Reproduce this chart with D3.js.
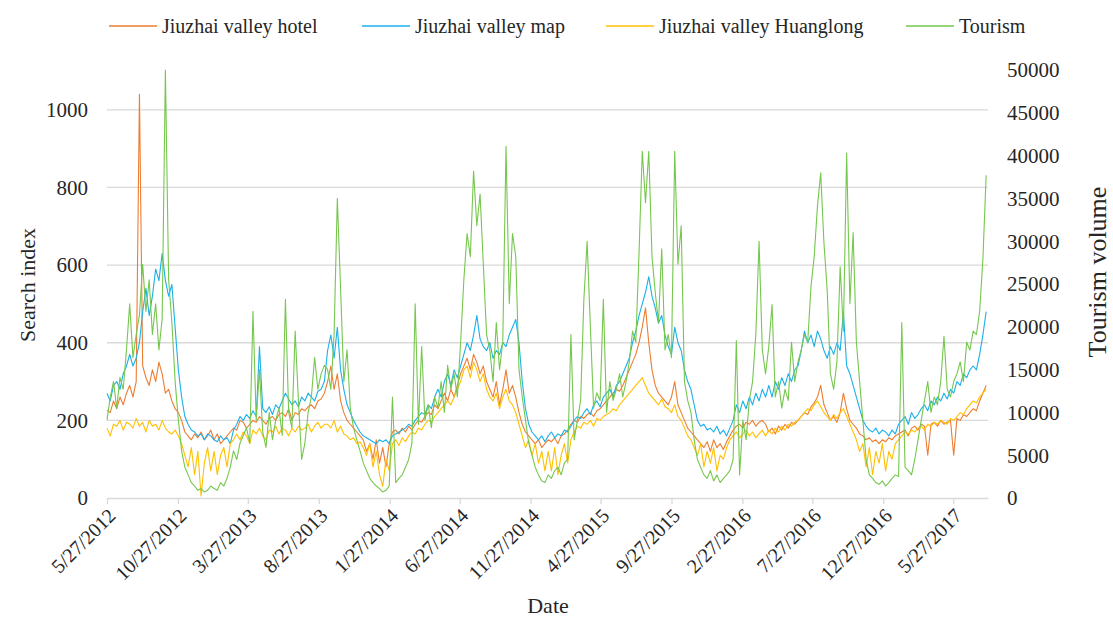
<!DOCTYPE html>
<html>
<head>
<meta charset="utf-8">
<script src="https://cdn.jsdelivr.net/npm/d3@7"></script>
<style>
  body { margin: 0; background: #fff; }
</style>
</head>
<body>
<script>
// weekly readings starting 5/27/2012
var startDate = new Date(2012, 4, 27);
var stepDays = 7;

var hotel = [226,220,250,230,260,240,270,290,260,300,1040,340,310,290,330,300,350,320,270,280,250,230,220,200,170,160,150,165,155,170,150,160,175,150,165,140,150,160,170,180,175,200,195,180,190,200,195,210,200,190,205,210,200,215,220,210,230,200,220,215,230,225,235,240,230,250,255,270,
  300,340,280,320,250,220,200,190,180,170,160,150,120,140,100,150,90,130,80,140,170,175,165,180,170,185,175,190,200,195,210,220,215,240,230,250,270,250,280,260,290,320,340,360,330,370,350,320,340,300,280,260,300,240,280,330,270,290,260,220,190,170,160,150,140,150,130,140,
  150,145,155,140,160,165,175,190,200,195,210,205,215,220,210,225,230,240,250,260,270,280,275,290,310,330,350,370,400,440,490,400,330,290,270,260,250,240,260,300,240,220,200,180,170,160,150,140,130,145,120,150,130,140,125,145,160,175,185,190,180,195,190,200,185,195,200,190,
  170,180,165,185,175,190,180,195,190,200,210,220,215,235,245,260,290,240,220,200,210,195,220,270,230,200,190,180,165,160,150,155,145,150,140,150,145,155,150,160,165,170,175,160,180,185,175,190,185,110,190,195,185,200,190,195,200,110,205,200,215,210,220,230,225,250,270,290];

var map = [270,250,290,300,280,320,340,370,340,360,400,480,540,470,520,590,560,630,560,520,550,440,330,260,210,190,175,170,160,165,150,165,160,150,145,160,150,155,140,175,190,210,200,215,205,225,210,390,230,220,235,215,240,230,250,270,255,240,250,235,260,250,270,260,250,275,280,300,
  380,420,360,440,330,280,240,220,200,185,170,160,155,150,145,140,150,145,150,140,160,165,170,175,180,190,185,200,210,220,215,240,230,260,280,260,300,320,290,330,310,340,370,400,380,420,470,410,390,380,400,360,380,370,400,390,420,440,460,400,300,230,190,170,160,150,160,145,
  160,170,155,165,160,175,170,185,200,210,205,220,230,215,240,250,235,260,270,280,260,290,300,320,340,360,400,430,470,500,530,570,520,490,450,470,420,390,370,440,400,380,330,300,280,240,200,185,190,175,180,170,185,165,175,160,180,200,240,220,250,230,260,240,270,250,280,260,
  290,260,300,280,310,290,320,300,330,340,380,430,400,420,390,430,410,380,360,390,370,400,380,480,340,320,290,260,230,200,185,175,170,180,165,175,170,160,175,165,190,200,210,190,220,205,215,230,240,225,250,240,260,250,270,255,280,270,300,290,320,310,330,340,330,370,420,480];

var huanglong = [180,160,190,185,200,175,195,190,180,205,185,195,170,200,185,190,175,200,180,170,165,175,160,140,110,80,130,60,120,5,90,130,70,120,60,110,130,80,140,150,165,150,170,160,140,175,165,180,160,150,175,170,185,165,180,175,160,180,170,185,175,180,190,170,185,195,180,190,
  190,180,200,170,185,165,160,150,155,140,145,130,110,140,80,120,60,30,100,70,140,150,135,155,145,160,170,165,180,175,190,200,195,210,220,230,240,250,240,260,280,300,330,340,310,350,330,300,320,280,260,250,270,230,260,280,250,240,220,190,160,130,150,110,140,90,120,70,
  120,70,130,60,110,140,90,150,170,185,180,195,190,200,185,205,200,210,215,220,230,225,240,250,260,270,280,290,300,310,290,270,260,250,240,255,235,230,220,240,210,200,180,160,150,130,110,140,80,120,90,130,70,110,100,130,150,160,170,155,165,175,160,170,155,165,175,160,
  175,165,180,170,185,175,190,185,195,200,210,220,230,225,240,250,235,220,210,200,215,205,220,230,210,190,170,150,120,140,80,130,60,120,90,140,70,120,100,140,150,160,170,165,175,170,180,185,175,190,185,195,190,200,195,190,205,200,210,220,215,230,240,250,245,260,270,280];

var tourism = [9100,11800,13600,10500,14100,12700,17300,22700,16400,19100,21400,27300,21800,25500,19100,22700,17300,20900,50000,25500,20500,13600,9100,5500,3600,2700,1800,1400,900,1100,700,900,1400,1100,900,1800,1400,2300,3600,5500,4500,6400,7300,8200,6400,21800,9100,15000,7700,5900,10000,6800,9100,10500,7300,23200,10000,8200,19500,11400,4500,6400,10000,11800,16400,12700,14500,15500,
  15000,12700,19100,35000,24500,13600,17300,10500,8200,6800,5500,4100,3200,2300,1800,1400,1100,700,900,1400,11800,1800,2300,2700,3600,4500,6400,22700,8600,17700,9100,10900,8200,11800,10500,13600,10000,15500,12700,14500,11800,18200,25500,30900,28200,38200,31800,35500,27300,19100,17300,13600,20500,15000,18200,41100,22700,30900,28200,15000,11800,9100,6400,5000,3600,2700,2000,1800,
  2700,2300,3200,3600,2700,4100,4500,19100,6800,9100,11400,23200,30000,20000,10500,12300,11400,23200,10000,13600,11400,12700,14500,11800,13600,15900,19500,18200,28600,40500,34500,40500,28200,24000,20500,29100,17300,19100,16400,40500,27300,31800,13600,11400,10000,6800,4500,3600,2700,2300,3200,2000,2700,1800,2300,2700,3200,4500,18400,2700,9100,6800,11400,13600,19100,30000,17300,14500,
  17700,22600,11800,13600,10500,12700,11400,18200,13600,15900,17300,19100,18200,24700,28200,34100,38000,29800,24300,14500,12700,15900,27000,19500,40300,22700,31000,18200,13600,9100,4500,2700,2300,1800,1600,2000,1400,1800,2300,2700,2500,20500,3600,3200,2700,4500,6800,9100,11400,13600,10000,11800,10900,13600,18900,12700,11800,13600,14500,15900,13600,18200,17300,19500,19100,21800,27900,37700];

var seriesNames = ["Jiuzhai valley hotel", "Jiuzhai valley map", "Jiuzhai valley Huanglong", "Tourism"];
var seriesColors = ["#ed7d31", "#1cb0e8", "#ffc000", "#76c74e"];

var leftTicks = [0, 200, 400, 600, 800, 1000];
var rightTicks = [0, 5000, 10000, 15000, 20000, 25000, 30000, 35000, 40000, 45000, 50000];
var dateTicks = ["5/27/2012","10/27/2012","3/27/2013","8/27/2013","1/27/2014","6/27/2014","11/27/2014","4/27/2015","9/27/2015","2/27/2016","7/27/2016","12/27/2016","5/27/2017"];

var W = 1113, H = 621;
var plot = {left: 107, right: 988, top: 70, bottom: 498};
var gridColor = "#d9d9d9";
var fontFamily = "'Liberation Serif', 'DejaVu Serif', serif";

var parseDate = d3.timeParse("%m/%d/%Y");
var dates = hotel.map(function(d, i) { return d3.timeDay.offset(startDate, i * stepDays); });

var x = d3.scaleTime()
    .domain([startDate, new Date(2017, 7, 10)])
    .range([plot.left, plot.right]);
var yL = d3.scaleLinear().domain([0, 1100]).range([plot.bottom, plot.top + 1]);
var yR = d3.scaleLinear().domain([0, 50000]).range([plot.bottom, plot.top]);

var svg = d3.select("body").append("svg")
    .attr("width", W)
    .attr("height", H)
    .attr("font-family", fontFamily);

svg.append("rect").attr("width", W).attr("height", H).attr("fill", "#fff");

// gridlines
svg.selectAll(".grid")
    .data(leftTicks.slice(1))
    .enter().append("line")
      .attr("x1", plot.left).attr("x2", plot.right)
      .attr("y1", function(d) { return yL(d); })
      .attr("y2", function(d) { return yL(d); })
      .attr("stroke", gridColor)
      .attr("stroke-width", 1.3);

// x axis
var xAxis = svg.append("g")
    .attr("transform", "translate(0," + plot.bottom + ")")
    .call(d3.axisBottom(x)
      .tickValues(dateTicks.map(parseDate))
      .tickSize(6)
      .tickSizeOuter(0)
      .tickFormat(""));
xAxis.select(".domain").attr("stroke", gridColor).attr("stroke-width", 1.6);
xAxis.selectAll(".tick line").attr("stroke", gridColor).attr("stroke-width", 1.3);

var labels = svg.append("g").attr("fill", "#262626").attr("font-family", fontFamily);

labels.selectAll(".xlab")
    .data(dateTicks)
    .enter().append("text")
      .attr("transform", function(d) {
        return "translate(" + (x(parseDate(d)) + 5) + "," + (plot.bottom + 14) + ") rotate(-45)";
      })
      .attr("text-anchor", "end")
      .attr("dy", "0.35em")
      .attr("font-size", 20)
      .text(function(d) { return d; });

// left axis labels
labels.selectAll(".ylab")
    .data(leftTicks)
    .enter().append("text")
      .attr("x", 88)
      .attr("y", function(d) { return yL(d); })
      .attr("dy", "0.35em")
      .attr("text-anchor", "end")
      .attr("font-size", 21)
      .text(function(d) { return d; });

// right axis labels
labels.selectAll(".y2lab")
    .data(rightTicks)
    .enter().append("text")
      .attr("x", 1007)
      .attr("y", function(d) { return yR(d); })
      .attr("dy", "0.35em")
      .attr("text-anchor", "start")
      .attr("font-size", 21)
      .text(function(d) { return d; });

// axis titles
labels.append("text")
    .attr("transform", "translate(27,285) rotate(-90)")
    .attr("text-anchor", "middle")
    .attr("dy", "0.35em")
    .attr("font-size", 22)
    .text("Search index");

labels.append("text")
    .attr("transform", "translate(1097,272) rotate(-90)")
    .attr("text-anchor", "middle")
    .attr("dy", "0.35em")
    .attr("font-size", 26)
    .text("Tourism volume");

labels.append("text")
    .attr("x", 548)
    .attr("y", 605)
    .attr("text-anchor", "middle")
    .attr("dy", "0.35em")
    .attr("font-size", 22)
    .text("Date");

// lines
var lineL = d3.line()
    .x(function(d) { return x(d.date); })
    .y(function(d) { return yL(d.value); });
var lineR = d3.line()
    .x(function(d) { return x(d.date); })
    .y(function(d) { return yR(d.value); });

[hotel, map, huanglong].forEach(function(s, k) {
  svg.append("path")
      .datum(s.map(function(v, i) { return {date: dates[i], value: v}; }))
      .attr("fill", "none")
      .attr("stroke", seriesColors[k])
      .attr("stroke-width", 1.1)
      .attr("stroke-linejoin", "round")
      .attr("d", lineL);
});

svg.append("path")
    .datum(tourism.map(function(v, i) { return {date: dates[i], value: v}; }))
    .attr("fill", "none")
    .attr("stroke", seriesColors[3])
    .attr("stroke-width", 1.1)
    .attr("stroke-linejoin", "round")
    .attr("d", lineR);

// legend
var legendX = [109, 362, 606, 906];
var legend = svg.selectAll(".legend")
    .data(seriesNames)
    .enter().append("g")
      .attr("transform", function(d, i) { return "translate(" + legendX[i] + ",26)"; });

legend.append("line")
    .attr("x1", 0).attr("x2", 48)
    .attr("stroke", function(d, i) { return seriesColors[i]; })
    .attr("stroke-width", 1.6);

legend.append("text")
    .attr("x", 53)
    .attr("dy", "0.35em")
    .attr("font-size", 20)
    .attr("fill", "#262626")
    .text(function(d) { return d; });
</script>
</body>
</html>
